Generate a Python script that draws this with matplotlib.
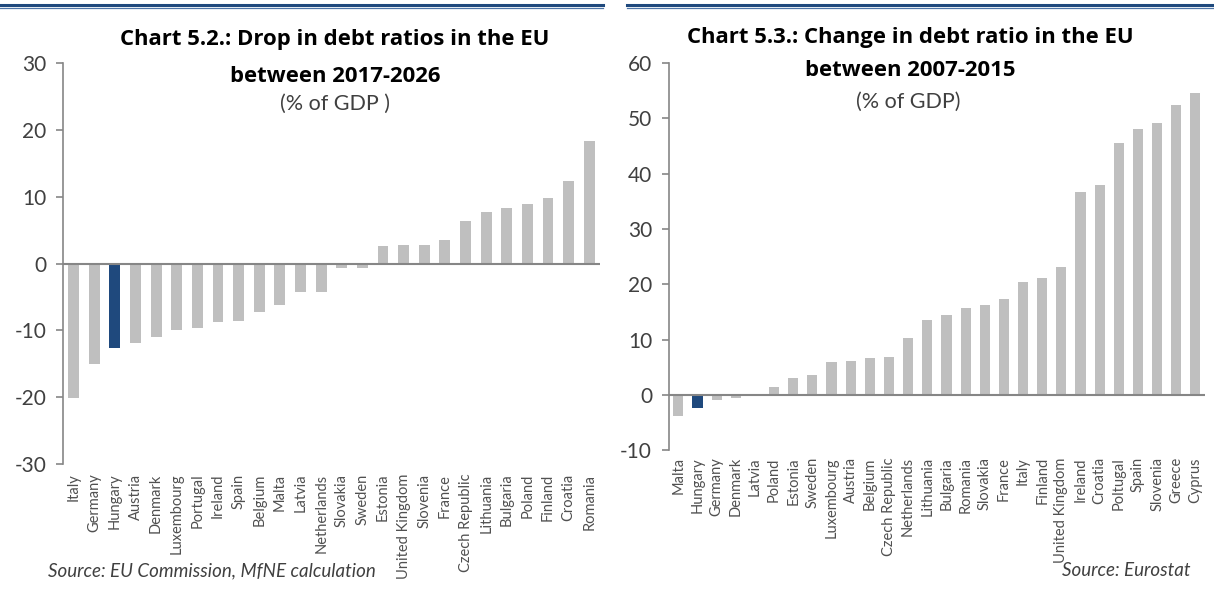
import matplotlib
matplotlib.use("Agg")
import matplotlib.pyplot as plt
from matplotlib.lines import Line2D

# ---- data ----
left_countries = ["Italy", "Germany", "Hungary", "Austria", "Denmark", "Luxembourg",
                  "Portugal", "Ireland", "Spain", "Belgium", "Malta", "Latvia",
                  "Netherlands", "Slovakia", "Sweden", "Estonia", "United Kingdom",
                  "Slovenia", "France", "Czech Republic", "Lithuania", "Bulgaria",
                  "Poland", "Finland", "Croatia", "Romania"]
left_values = [-20.1, -15.1, -12.6, -11.9, -11.0, -10.0, -9.6, -8.8, -8.6, -7.3,
               -6.2, -4.3, -4.3, -0.7, -0.6, 2.7, 2.8, 2.8, 3.6, 6.4, 7.7, 8.4,
               9.0, 9.9, 12.4, 18.3]

right_countries = ["Malta", "Hungary", "Germany", "Denmark", "Latvia", "Poland",
                   "Estonia", "Sweden", "Luxembourg", "Austria", "Belgium",
                   "Czech Republic", "Netherlands", "Lithuania", "Bulgaria",
                   "Romania", "Slovakia", "France", "Italy", "Finland",
                   "United Kingdom", "Ireland", "Croatia", "Poltugal", "Spain",
                   "Slovenia", "Greece", "Cyprus"]
right_values = [-3.8, -2.4, -0.9, -0.5, 0.0, 1.5, 3.0, 3.6, 5.9, 6.2, 6.6, 6.8,
                10.3, 13.6, 14.5, 15.8, 16.2, 17.3, 20.4, 21.1, 23.1, 36.7, 38.0,
                45.5, 48.0, 49.1, 52.4, 54.6]

highlight = "Hungary"

left_title = ["Chart 5.2.: Drop in debt ratios in the EU", "between 2017-2026"]
left_sub = "(% of GDP )"
right_title = ["Chart 5.3.: Change in debt ratio in the EU", "between 2007-2015"]
right_sub = "(% of GDP)"
left_source = "Source: EU Commission, MfNE calculation"
right_source = "Source: Eurostat"

# ---- style ----
GRAY = "#BFBFBF"
BLUE = "#1F497D"
AXC = "#868686"
TXT = "#404040"
W, H = 1214, 589
fig = plt.figure(figsize=(W / 100, H / 100), dpi=100)

FAM = ["Lato", "DejaVu Sans"]
TFAM = ["Open Sans", "DejaVu Sans"]


def fx(px):
    return px / W


def fy(py):
    return 1 - py / H


def draw(ax, cats, vals, ylim, yticks, xpad):
    colors = [BLUE if c == highlight else GRAY for c in cats]
    x = list(range(len(cats)))
    ax.bar(x, vals, width=0.53, color=colors, edgecolor="none", zorder=2)
    ax.set_xlim(-0.5, len(cats) - 0.5)
    ax.set_ylim(*ylim)
    ax.set_yticks(yticks)
    ax.set_yticklabels([str(t) for t in yticks], fontsize=15, color=TXT, family=FAM)
    ax.axhline(0, color=AXC, lw=1.5, zorder=3)
    for s in ["top", "right", "bottom"]:
        ax.spines[s].set_visible(False)
    ax.spines["left"].set_color(AXC)
    ax.spines["left"].set_linewidth(1.2)
    ax.tick_params(axis="y", direction="out", length=5, width=1.2, color=AXC, pad=7)
    ax.set_xticks(x)
    ax.tick_params(axis="x", length=0, pad=xpad)
    ax.set_xticklabels(cats, rotation=90, fontsize=10.5, color="#505050",
                       family=FAM, va="top", ha="center")
    ax.patch.set_alpha(0)


ax1 = fig.add_axes([fx(63.3), fy(464), fx(599.6) - fx(63.3), fy(63.3) - fy(464)])
draw(ax1, left_countries, left_values, (-30, 30), [-30, -20, -10, 0, 10, 20, 30], 7)

ax2 = fig.add_axes([fx(668.7), fy(450.3), fx(1205) - fx(668.7), fy(63) - fy(450.3)])
draw(ax2, right_countries, right_values, (-10, 60), [-10, 0, 10, 20, 30, 40, 50, 60], 5)

title_font = dict(family=TFAM, weight="bold", fontsize=15.9, color="black")
sub_font = dict(family=FAM, fontsize=15.5, color=TXT)

fig.text(fx(335), fy(40), left_title[0], ha="center", va="center", **title_font)
fig.text(fx(335), fy(76), left_title[1], ha="center", va="center", **title_font)
fig.text(fx(335), fy(104), left_sub, ha="center", va="center", **sub_font)

fig.text(fx(910), fy(38), right_title[0], ha="center", va="center", **title_font)
fig.text(fx(910), fy(70), right_title[1], ha="center", va="center", **title_font)
fig.text(fx(908), fy(102), right_sub, ha="center", va="center", **sub_font)

src_font = dict(family=FAM, style="italic", fontsize=13.5, color=TXT)
fig.text(fx(48), fy(571), left_source, ha="left", va="center", **src_font)
fig.text(fx(1190), fy(571), right_source, ha="right", va="center", **src_font)

# double blue rule lines at top
for (x0, x1) in [(0, 603), (627, 1214)]:
    fig.add_artist(Line2D([fx(x0), fx(x1)], [fy(4.5), fy(4.5)], color=BLUE, lw=2.2, transform=fig.transFigure))
    fig.add_artist(Line2D([fx(x0), fx(x1)], [fy(8), fy(8)], color="#4F76A8", lw=0.9, transform=fig.transFigure))

fig.savefig("out.png", dpi=100)
